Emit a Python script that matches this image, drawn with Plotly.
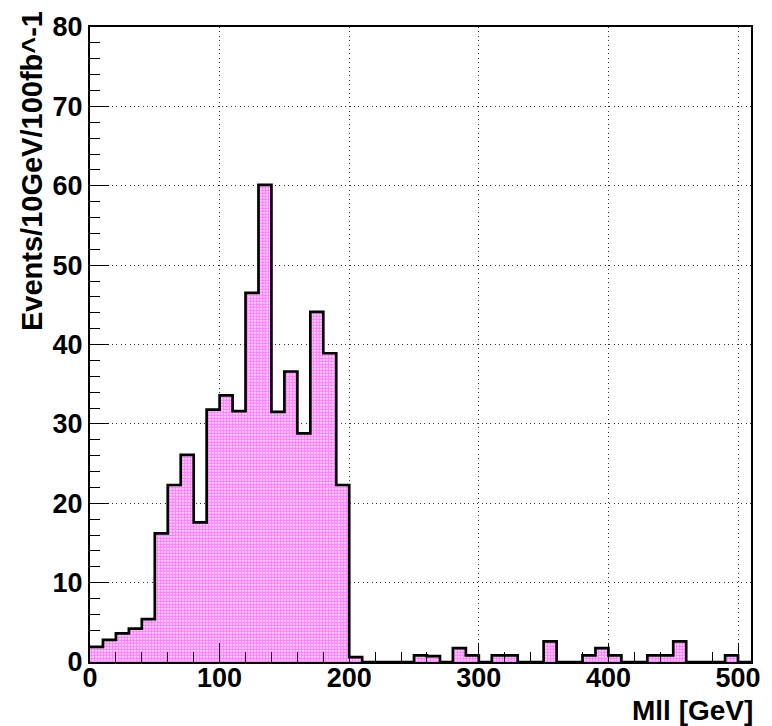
import plotly.graph_objects as go

bin_edges = list(range(0, 520, 10))  # 0..510, 51 bins of 10 GeV
values = [
    1.9, 2.8, 3.6, 4.2, 5.4, 16.2, 22.3, 26.1, 17.6, 31.8,
    33.6, 31.6, 46.5, 60.1, 31.5, 36.6, 28.8, 44.1, 38.9, 22.3,
    0.62, 0, 0, 0, 0, 0.83, 0.75, 0, 1.75, 0.83,
    0, 0.83, 0.83, 0, 0, 2.6, 0, 0, 0.83, 1.75,
    0.83, 0, 0, 0.83, 0.83, 2.6, 0, 0, 0, 0.83,
    0,
]
x_tick_vals = [0, 100, 200, 300, 400, 500]
y_tick_vals = [0, 10, 20, 30, 40, 50, 60, 70, 80]
x_title = "Mll [GeV]"
y_title = "Events/10GeV/100fb^-1"

centers = [(bin_edges[i] + bin_edges[i + 1]) / 2 for i in range(len(values))]

font_family = "Liberation Sans, Arial, Helvetica, sans-serif"
tick_font = dict(family=font_family, size=27, color="black", weight=700)

fig = go.Figure()
fig.add_trace(go.Bar(
    x=centers, y=values, width=10,
    marker=dict(
        color="#ff00ff",
        line=dict(width=0),
        pattern=dict(shape=".", fgcolor="#ff00ff", bgcolor="#ffffff", size=3, solidity=0.72),
    ),
    showlegend=False, hoverinfo="skip",
))
fig.add_trace(go.Scatter(
    x=bin_edges, y=values + [values[-1]],
    mode="lines", line=dict(color="black", width=2.7, shape="hv"),
    showlegend=False, hoverinfo="skip",
))

grid_dash = "1px,3.4px"
fig.update_layout(
    width=772, height=726,
    margin=dict(l=90, r=16, t=20, b=64),
    plot_bgcolor="white", paper_bgcolor="white",
    bargap=0,
    font=dict(family=font_family, size=22, color="black"),
    xaxis=dict(
        range=[0, 510], tickvals=x_tick_vals,
        ticktext=["<b>%d</b>" % v for v in x_tick_vals],
        ticks="inside", ticklen=19, tickwidth=1.2, tickcolor="black",
        minor=dict(dtick=20, ticks="inside", ticklen=10, tickwidth=1.2, tickcolor="black", showgrid=False),
        showgrid=True, gridcolor="#333", griddash=grid_dash, gridwidth=1,
        showline=True, linecolor="black", linewidth=2, mirror=True,
        tickfont=tick_font, ticklabelstandoff=-9,
        zeroline=False, layer="above traces",
    ),
    yaxis=dict(
        range=[0, 80], tickvals=y_tick_vals,
        ticktext=["<b>%d</b>" % v for v in y_tick_vals],
        ticks="inside", ticklen=19, tickwidth=1.2, tickcolor="black",
        minor=dict(dtick=2, ticks="inside", ticklen=10, tickwidth=1.2, tickcolor="black", showgrid=False),
        showgrid=True, gridcolor="#333", griddash=grid_dash, gridwidth=1,
        showline=True, linecolor="black", linewidth=2, mirror=True,
        tickfont=tick_font, ticklabelstandoff=0,
        zeroline=False, layer="above traces",
    ),
    annotations=[
        dict(text="<b>%s</b>" % x_title, xref="paper", yref="paper", x=1.0, y=0,
             xanchor="right", yanchor="top", xshift=4, yshift=-31, showarrow=False,
             font=dict(family=font_family, size=28, color="black")),
        dict(text="<b>%s</b>" % y_title, xref="paper", yref="paper", x=0, y=1.0,
             xanchor="center", yanchor="top", xshift=-58, yshift=18, textangle=-90,
             showarrow=False,
             font=dict(family=font_family, size=29, color="black")),
    ],
)

fig.write_html("out.html")
